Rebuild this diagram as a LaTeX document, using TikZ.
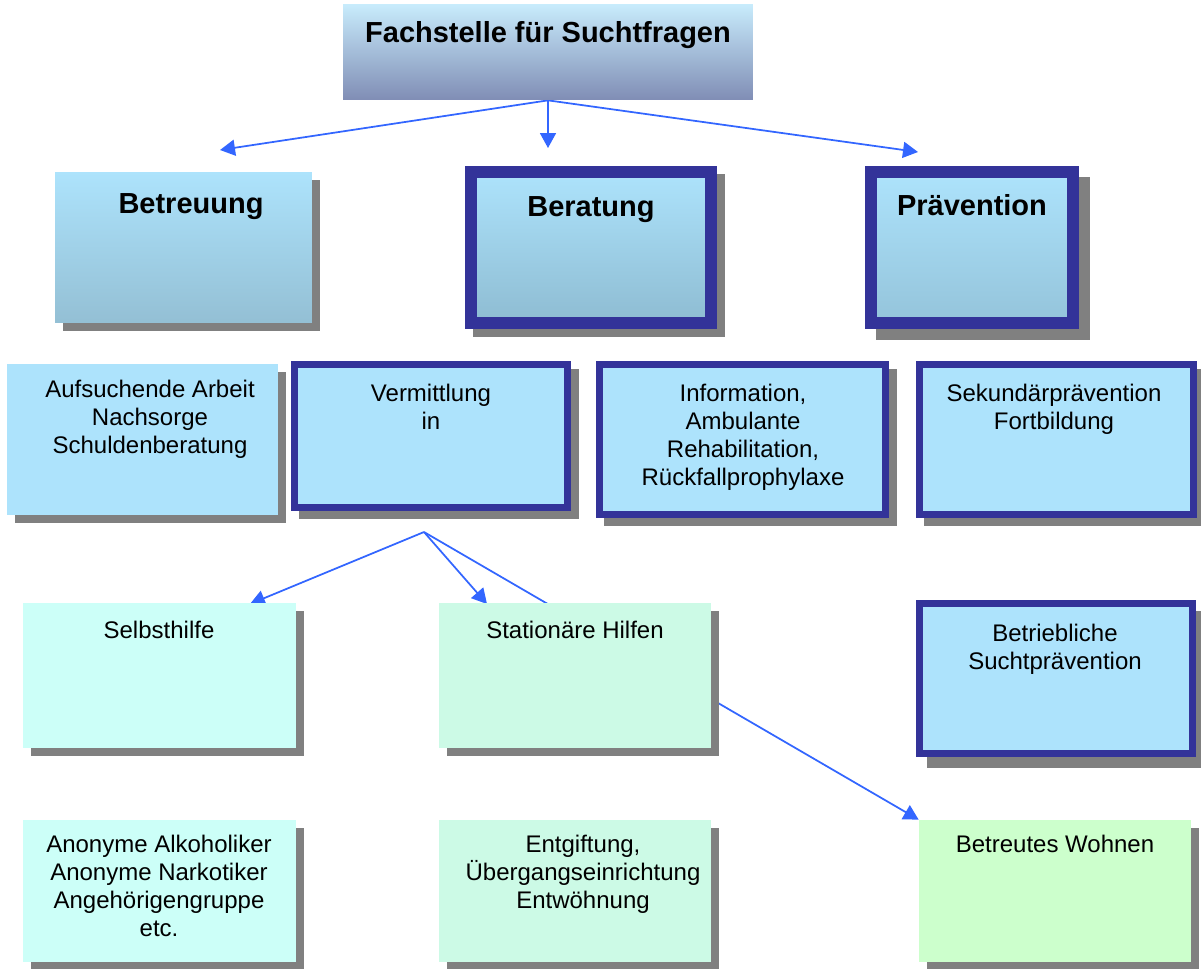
\documentclass[tikz,border=0pt]{standalone}
\usepackage{fontspec}
\setmainfont{Liberation Sans}
\usetikzlibrary{arrows.meta,calc,backgrounds}

\definecolor{rahmen}{RGB}{51,51,153}
\definecolor{schatten}{RGB}{128,128,128}
\definecolor{pfeilblau}{RGB}{51,102,255}
\definecolor{hellblau}{RGB}{173,227,252}
\definecolor{blaugrau}{RGB}{142,188,210}
\definecolor{kopfhell}{RGB}{200,236,252}
\definecolor{kopfdunkel}{RGB}{128,141,181}
\definecolor{tuerkis}{RGB}{204,255,248}
\definecolor{mint}{RGB}{204,250,230}
\definecolor{gruen}{RGB}{204,255,204}

\begin{document}
\begin{tikzpicture}[x=0.02cm, y=-0.02cm,
    kasten/.style={rectangle, inner sep=0pt, fill=hellblau},
    rkasten/.style={kasten, draw=rahmen, line width=0.14cm},
    dkasten/.style={kasten, draw=rahmen, line width=0.24cm, top color=hellblau, bottom color=blaugrau},
    txt/.style={font=\fontsize{13.66}{15.94}\selectfont, align=center, inner sep=0pt, anchor=north},
    titel/.style={font=\fontsize{16.5}{19}\selectfont\bfseries, inner sep=0pt, anchor=north},
    pfeil/.style={draw=pfeilblau, line width=0.035cm, -{Triangle[length=0.3cm, width=0.32cm]}}]
    \useasboundingbox (0,0) rectangle (1201,968);

    \node[kasten, top color=kopfhell, bottom color=kopfdunkel, minimum width=8.2cm, minimum height=1.92cm] (fach) at (548,52) {};
    \node[kasten, top color=hellblau, bottom color=blaugrau!95!white, minimum width=5.14cm, minimum height=3.02cm] (betr) at (183.5,247.5) {};
    \node[dkasten, minimum width=4.8cm, minimum height=3.02cm] (berat) at (591,247.5) {};
    \node[dkasten, bottom color=blaugrau!80!hellblau, minimum width=4.04cm, minimum height=3.02cm] (praev) at (972,247.5) {};

    \node[kasten, minimum width=5.42cm, minimum height=3.02cm] (aufs) at (142.5,439.5) {};
    \node[rkasten, minimum width=5.46cm, minimum height=2.86cm] (verm) at (431,436) {};
    \node[rkasten, minimum width=5.72cm, minimum height=3.0cm] (info) at (742.5,439.5) {};
    \node[rkasten, minimum width=5.48cm, minimum height=3.0cm] (sek) at (1056.5,439.5) {};

    \node[kasten, fill=tuerkis, minimum width=5.46cm, minimum height=2.9cm] (selbst) at (159.5,675.5) {};
    \node[kasten, fill=mint, minimum width=5.44cm, minimum height=2.9cm] (stat) at (575,675.5) {};
    \node[rkasten, minimum width=5.46cm, minimum height=3.0cm] (bsp) at (1056,678.5) {};

    \node[kasten, fill=tuerkis, minimum width=5.46cm, minimum height=2.84cm] (anon) at (159.5,891) {};
    \node[kasten, fill=mint, minimum width=5.44cm, minimum height=2.84cm] (entg) at (575,891) {};
    \node[kasten, fill=gruen, minimum width=5.44cm, minimum height=2.84cm] (wohnen) at (1055,891) {};

    \node[titel] (fachtxt) at (548,21) {Fachstelle für Suchtfragen};
    \node[titel] (betrtxt) at (191,193) {Betreuung};
    \node[titel] (berattxt) at (591,196) {Beratung};
    \node[titel] (praevtxt) at (972,194) {Prävention};

    \node[txt] (aufstxt) at (150,380) {Aufsuchende Arbeit\\Nachsorge\\Schuldenberatung};
    \node[txt] (vermtxt) at (431,384) {Vermittlung\\in};
    \node[txt] (infotxt) at (743,384) {Information,\\Ambulante\\Rehabilitation,\\Rückfallprophylaxe};
    \node[txt] (sektxt) at (1054,384) {Sekundärprävention\\Fortbildung};

    \node[txt] (selbsttxt) at (159,621) {Selbsthilfe};
    \node[txt] (stattxt) at (575,621) {Stationäre Hilfen};
    \node[txt] (bsptxt) at (1055,624) {Betriebliche\\Suchtprävention};

    \node[txt] (anontxt) at (159,835) {Anonyme Alkoholiker\\Anonyme Narkotiker\\Angehörigengruppe\\etc.};
    \node[txt] (entgtxt) at (583,835) {Entgiftung,\\Übergangseinrichtung\\Entwöhnung};
    \node[txt] (wohnentxt) at (1055,835) {Betreutes Wohnen};

    \coordinate (zielbetr) at (220,150);
    \coordinate (zielberat) at (548,148);
    \coordinate (zielpraev) at (918,152);
    \coordinate (verzw) at (424,532);
    \coordinate (zielselbst) at (250,604);
    \coordinate (zielstat) at (487,604);

    \begin{scope}[on background layer]
        \draw[pfeil] (fach.south) -- (zielbetr);
        \draw[pfeil] (fach.south) -- (zielberat);
        \draw[pfeil] (fach.south) -- (zielpraev);
        \draw[pfeil] (verzw) -- (zielselbst);
        \draw[pfeil] (verzw) -- (zielstat);
        \draw[pfeil] (verzw) -- (wohnen.north west);
        \foreach \bx/\dd in {betr/8, berat/8, praev/11, aufs/8, verm/8, info/8, sek/8, selbst/8, stat/8, bsp/11, anon/8, entg/8, wohnen/8}
            \fill[schatten] ($(\bx.south west)+(\dd,\dd)$) rectangle ($(\bx.north east)+(\dd,\dd)$);
    \end{scope}
\end{tikzpicture}
\end{document}
